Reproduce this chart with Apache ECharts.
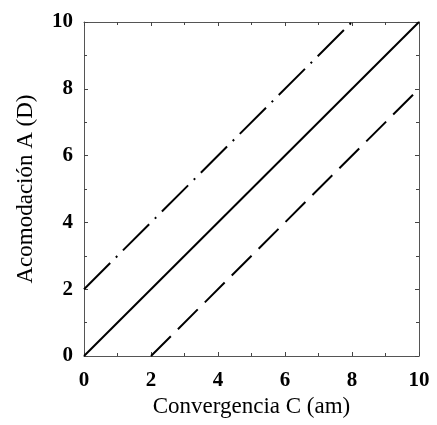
<!DOCTYPE html>
<html>
<head>
<meta charset="utf-8">
<script src="https://cdn.jsdelivr.net/npm/echarts@6/dist/echarts.min.js"></script>
<style>
  html, body { margin: 0; padding: 0; background: #fff; }
  #chart { width: 437px; height: 425px; }
</style>
</head>
<body>
<div id="chart"></div>
<script>
// line endpoints
const solidX = [0, 10]
const solidY = [0, 10]
const dashDotX = [0, 8]
const dashDotY = [2, 10]
const dashedX = [2, 10]
const dashedY = [0, 8]

const xTitle = 'Convergencia C (am)'
const yTitle = 'Acomodación A (D)'

function pairs(xs, ys) {
  return xs.map((x, i) => [x, ys[i]])
}

const font = 'Liberation Serif'

// shared look for all four sides of the box
const frameAxis = {
  type: 'value',
  min: 0,
  max: 10,
  interval: 2,
  axisLine: { show: true, onZero: false, lineStyle: { color: '#555', width: 1 } },
  axisTick: { show: true, inside: true, length: 4, lineStyle: { color: '#444' } },
  minorTick: { show: true, splitNumber: 2, length: 3, lineStyle: { color: '#444' } },
  splitLine: { show: false },
  axisLabel: { show: false }
}

const labelStyle = {
  show: true,
  color: '#000',
  fontFamily: font,
  fontSize: 21,
  fontWeight: 'bold'
}

const titleStyle = { color: '#000', fontFamily: font, fontSize: 23 }

const chart = echarts.init(document.getElementById('chart'))
chart.setOption({
  animation: false,
  grid: { left: 84, right: 18, top: 22, bottom: 69 },
  xAxis: [
    {
      ...frameAxis,
      position: 'bottom',
      name: xTitle,
      nameLocation: 'middle',
      nameGap: 39,
      nameTextStyle: titleStyle,
      axisLabel: { ...labelStyle, margin: 14 }
    },
    { ...frameAxis, position: 'top' }
  ],
  yAxis: [
    {
      ...frameAxis,
      position: 'left',
      name: yTitle,
      nameLocation: 'middle',
      nameGap: 47,
      nameTextStyle: titleStyle,
      axisLabel: { ...labelStyle, margin: 11 }
    },
    { ...frameAxis, position: 'right' }
  ],
  series: [
    {
      type: 'line',
      data: pairs(solidX, solidY),
      symbol: 'none',
      lineStyle: { color: '#000', width: 2, type: 'solid' }
    },
    {
      type: 'line',
      data: pairs(dashDotX, dashDotY),
      symbol: 'none',
      lineStyle: { color: '#000', width: 2, type: [37, 8, 2, 8] }
    },
    {
      type: 'line',
      data: pairs(dashedX, dashedY),
      symbol: 'none',
      lineStyle: { color: '#000', width: 2, type: [28, 10] }
    }
  ]
})
</script>
</body>
</html>
